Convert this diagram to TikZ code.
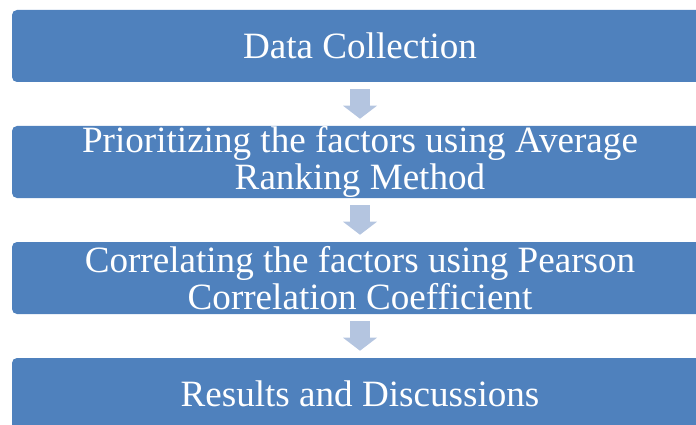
\documentclass[tikz,border=0pt]{standalone}
\usepackage{fontspec}
\setmainfont{Liberation Serif}
\usetikzlibrary{arrows.meta}
\definecolor{stageblue}{RGB}{79,129,189}
\definecolor{flowblue}{RGB}{180,197,224}
\begin{document}
\begin{tikzpicture}[
    stage/.style={rectangle, rounded corners=0.125cm, fill=stageblue, text=white, minimum width=17.4cm, minimum height=1.8cm, inner sep=0pt, align=center, font=\fontsize{26.4}{26.6}\selectfont},
    flow/.style={draw=flowblue, line width=0.5cm, shorten <=0.175cm, shorten >=0.175cm, -{Triangle[width=0.85cm, length=0.325cm, line width=0pt]}}
]
    \useasboundingbox (0,0) rectangle (17.4,-10.625);

    % Stages
    \node[stage] (collect) at (9,-1.15) {Data Collection};
    \node[stage] (rank) at (9,-4.05) {Prioritizing the factors using Average\\Ranking Method};
    \node[stage] (correl) at (9,-6.95) {Correlating the factors using Pearson\\Correlation Coefficient};
    \node[stage] (result) at (9,-9.85) {Results and Discussions};

    % Block arrows
    \draw[flow] (collect) -- (rank);
    \draw[flow] (rank) -- (correl);
    \draw[flow] (correl) -- (result);

\end{tikzpicture}
\end{document}
